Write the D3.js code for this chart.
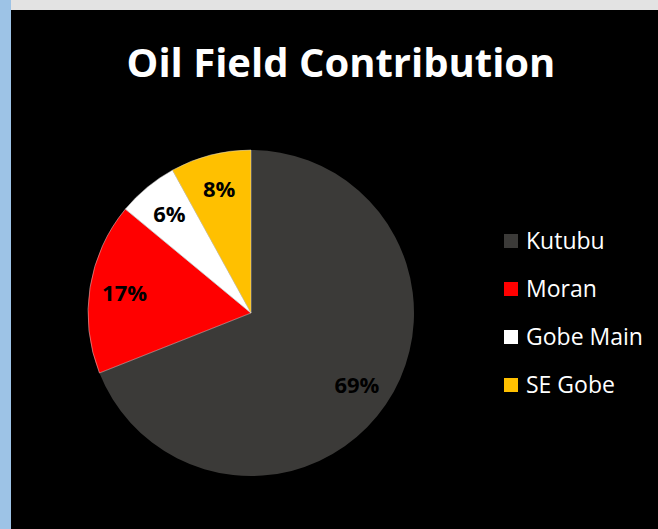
<!DOCTYPE html>
<html>
<head>
<meta charset="utf-8">
<script src="https://cdn.jsdelivr.net/npm/d3@7"></script>
<style>
  html, body { margin: 0; padding: 0; background: #000; }
  svg { display: block; }
</style>
</head>
<body>
<svg id="chart" width="658" height="529"></svg>
<script>
const fields = ['Kutubu', 'Moran', 'Gobe Main', 'SE Gobe'];
const shares = [69, 17, 6, 8];
const colors = ['#3b3a38', '#ff0000', '#ffffff', '#ffc000'];

const svg = d3.select('#chart');
const width = 658, height = 529;

// frame: grey strip on top, blue strip on the left
svg.append('rect').attr('width', width).attr('height', height).attr('fill', '#000');
svg.append('rect').attr('width', width).attr('height', 10).attr('fill', '#e3e3e3');
svg.append('rect').attr('width', 11).attr('height', height).attr('fill', '#9dc3e6');

svg.append('text')
    .attr('x', 341)
    .attr('y', 77)
    .attr('text-anchor', 'middle')
    .attr('fill', '#fff')
    .style('font-family', '"Open Sans", sans-serif')
    .style('font-weight', 'bold')
    .style('font-size', '40px')
    .text('Oil Field Contribution');

const cx = 251, cy = 313, radius = 163;
const data = fields.map((f, i) => ({ name: f, value: shares[i], color: colors[i] }));

const pie = d3.pie().value(d => d.value).sort(null);
const arc = d3.arc().innerRadius(0).outerRadius(radius);
const labelArc = d3.arc().innerRadius(128).outerRadius(128);

const g = svg.append('g').attr('transform', `translate(${cx},${cy})`);
const arcs = pie(data);

g.selectAll('path')
    .data(arcs)
    .enter()
    .append('path')
    .attr('d', arc)
    .attr('fill', d => d.data.color)
    .attr('stroke', d => d.data.name === 'Kutubu' ? 'none' : '#d9d9d9')
    .attr('stroke-width', 0.5);

g.selectAll('text.pct')
    .data(arcs)
    .enter()
    .append('text')
    .attr('class', 'pct')
    .attr('transform', d => `translate(${labelArc.centroid(d)})`)
    .attr('text-anchor', 'middle')
    .attr('dy', '0.36em')
    .attr('fill', '#000')
    .style('font-family', '"Open Sans", sans-serif')
    .style('font-weight', 'bold')
    .style('font-size', '22px')
    .text(d => d.data.value + '%');

const legendY = d3.scaleBand().domain(fields).range([217, 409]);

const legend = svg.append('g');
const items = legend.selectAll('g')
    .data(data)
    .enter()
    .append('g')
    .attr('transform', d => `translate(504,${legendY(d.name) + legendY.bandwidth() / 2})`);

items.append('rect')
    .attr('x', 0)
    .attr('y', -7)
    .attr('width', 14)
    .attr('height', 14)
    .attr('fill', d => d.color);

items.append('text')
    .attr('x', 22)
    .attr('dy', '0.36em')
    .attr('fill', '#fff')
    .style('font-family', '"Open Sans", sans-serif')
    .style('font-size', '23px')
    .text(d => d.name);
</script>
</body>
</html>
